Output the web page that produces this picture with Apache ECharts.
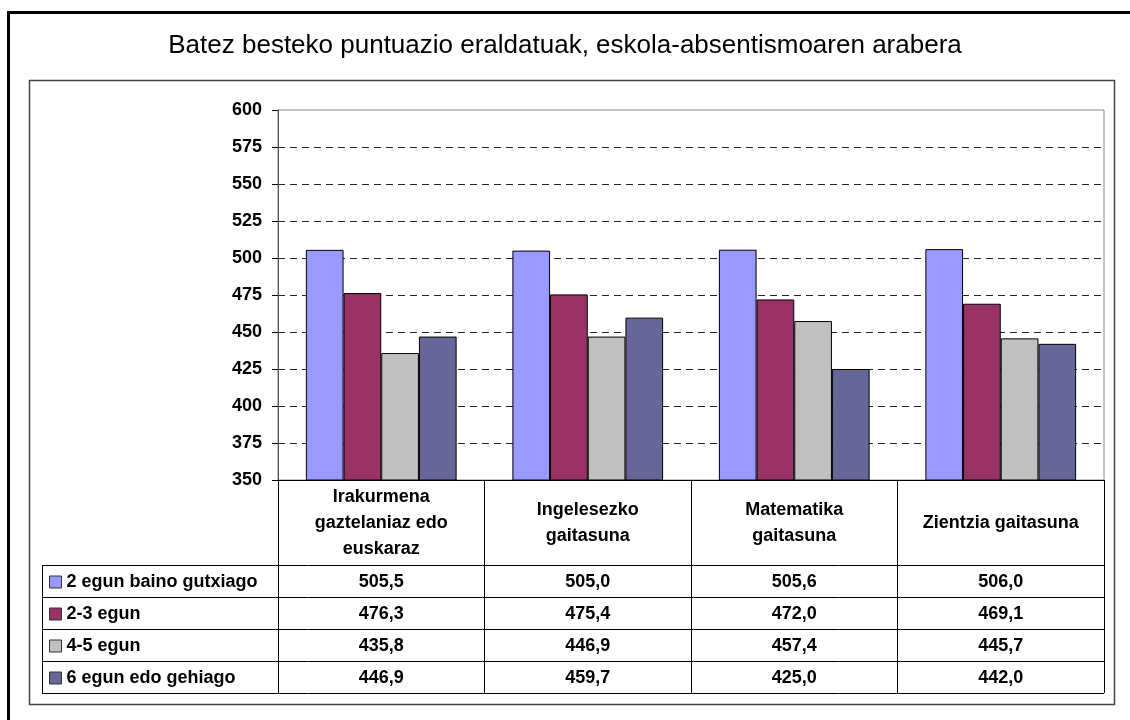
<!DOCTYPE html>
<html>
<head>
<meta charset="utf-8">
<script src="https://cdn.jsdelivr.net/npm/echarts@6/dist/echarts.min.js"></script>
<style>
  html, body { margin: 0; padding: 0; background: #fff; }
  #grafica { width: 1130px; height: 720px; }
</style>
</head>
<body>
<div id="grafica"></div>
<script>
const izenburua = "Batez besteko puntuazio eraldatuak, eskola-absentismoaren arabera";
const kategoriak = ["Irakurmena\ngaztelaniaz edo\neuskaraz", "Ingelesezko\ngaitasuna", "Matematika\ngaitasuna", "Zientzia gaitasuna"];
const serieIzenak = ["2 egun baino gutxiago", "2-3 egun", "4-5 egun", "6 egun edo gehiago"];
const egun2Gutxiago = [505.5, 505.0, 505.6, 506.0];
const egun2_3 = [476.3, 475.4, 472.0, 469.1];
const egun4_5 = [435.8, 446.9, 457.4, 445.7];
const egun6Gehiago = [446.9, 459.7, 425.0, 442.0];
const yTikak = [350, 375, 400, 425, 450, 475, 500, 525, 550, 575, 600];

const balioak = [egun2Gutxiago, egun2_3, egun4_5, egun6Gehiago];
const koloreak = ["#9999FF", "#993366", "#C0C0C0", "#666699"];
const letra = "'Liberation Sans', Arial, sans-serif";
const letraTamaina = 18;

// taula
const gridTop = 110, axisY = 480, gridLeft = 278, gridRight = 1104;
const taulaLeft = 42, goiburuBehea = 565, errenkada = 32;

const zenbakia = (v) => v.toFixed(1).replace(".", ",");

const getOptionChart = () => {
  const balioArdatzak = balioak.map((datuak, k) => ({
    type: "category",
    data: kategoriak,
    position: "bottom",
    axisLine: { show: false },
    axisTick: { show: false },
    axisLabel: {
      interval: 0,
      margin: goiburuBehea + errenkada * k + errenkada / 2 + 1 - axisY,
      verticalAlign: "middle",
      fontFamily: letra,
      fontWeight: "bold",
      fontSize: letraTamaina,
      color: "#000",
      formatter: (v, i) => zenbakia(datuak[i]),
    },
  }));

  const lerroak = [];
  for (let k = 0; k <= balioak.length; k++) {
    const y = goiburuBehea + errenkada * k + 0.5;
    lerroak.push({
      type: "line",
      shape: { x1: taulaLeft, y1: y, x2: gridRight, y2: y },
      style: { stroke: "#000", lineWidth: 1 },
    });
  }
  lerroak.push({
    type: "line",
    shape: { x1: taulaLeft + 0.5, y1: goiburuBehea, x2: taulaLeft + 0.5, y2: goiburuBehea + errenkada * 4 },
    style: { stroke: "#000", lineWidth: 1 },
  });

  return {
    backgroundColor: "#fff",
    animation: false,
    title: {
      text: izenburua,
      left: "center",
      top: 28,
      textStyle: { fontFamily: letra, fontWeight: "normal", fontSize: 26, color: "#000" },
    },
    legend: {
      data: serieIzenak,
      orient: "vertical",
      left: 49,
      top: goiburuBehea + 7,
      padding: 0,
      itemGap: 12,
      itemWidth: 12,
      itemHeight: 12,
      icon: "rect",
      selectedMode: false,
      itemStyle: { borderColor: "#333", borderWidth: 1 },
      textStyle: { fontFamily: letra, fontWeight: "bold", fontSize: letraTamaina, lineHeight: 20, color: "#000" },
    },
    grid: {
      left: gridLeft,
      top: gridTop,
      width: gridRight - gridLeft,
      height: axisY - gridTop,
      show: true,
      borderColor: "#888",
      borderWidth: 1,
      containLabel: false,
    },
    xAxis: [
      {
        type: "category",
        data: kategoriak,
        position: "bottom",
        axisLine: { onZero: false, lineStyle: { color: "#000", width: 1 } },
        axisTick: {
          show: true,
          length: goiburuBehea + errenkada * 4 - axisY,
          lineStyle: { color: "#000", width: 1 },
        },
        axisLabel: {
          interval: 0,
          margin: (goiburuBehea - axisY) / 2 + 1,
          verticalAlign: "middle",
          lineHeight: 26,
          fontFamily: letra,
          fontWeight: "bold",
          fontSize: letraTamaina,
          color: "#000",
        },
      },
      ...balioArdatzak,
    ],
    yAxis: {
      type: "value",
      min: yTikak[0],
      max: yTikak[yTikak.length - 1],
      interval: yTikak[1] - yTikak[0],
      axisLine: { show: true, lineStyle: { color: "#555", width: 1 } },
      axisTick: { show: true, length: 6, lineStyle: { color: "#000" } },
      axisLabel: {
        margin: 16,
        fontFamily: letra,
        fontWeight: "bold",
        fontSize: letraTamaina,
        color: "#000",
      },
      splitLine: {
        show: true,
        showMinLine: false,
        showMaxLine: false,
        lineStyle: { color: "#222", type: [7, 5], width: 1 },
      },
    },
    series: balioak.map((datuak, k) => ({
      name: serieIzenak[k],
      type: "bar",
      xAxisIndex: 0,
      data: datuak,
      barGap: "0%",
      barCategoryGap: "27%",
      itemStyle: { color: koloreak[k], borderColor: "#000", borderWidth: 1 },
    })),
    graphic: [
      {
        type: "rect",
        shape: { x: 8.5, y: 12.5, width: 1140, height: 720 },
        style: { fill: "none", stroke: "#000", lineWidth: 3 },
        z: 10,
      },
      {
        type: "rect",
        shape: { x: 29.5, y: 80.5, width: 1085, height: 624 },
        style: { fill: "none", stroke: "#444", lineWidth: 1.5 },
        z: 10,
      },
      ...lerroak,
    ],
  };
};

const initCharts = () => {
  const chart = echarts.init(document.querySelector("#grafica"), null, { renderer: "canvas" });
  chart.setOption(getOptionChart());
};

initCharts();
</script>
</body>
</html>
